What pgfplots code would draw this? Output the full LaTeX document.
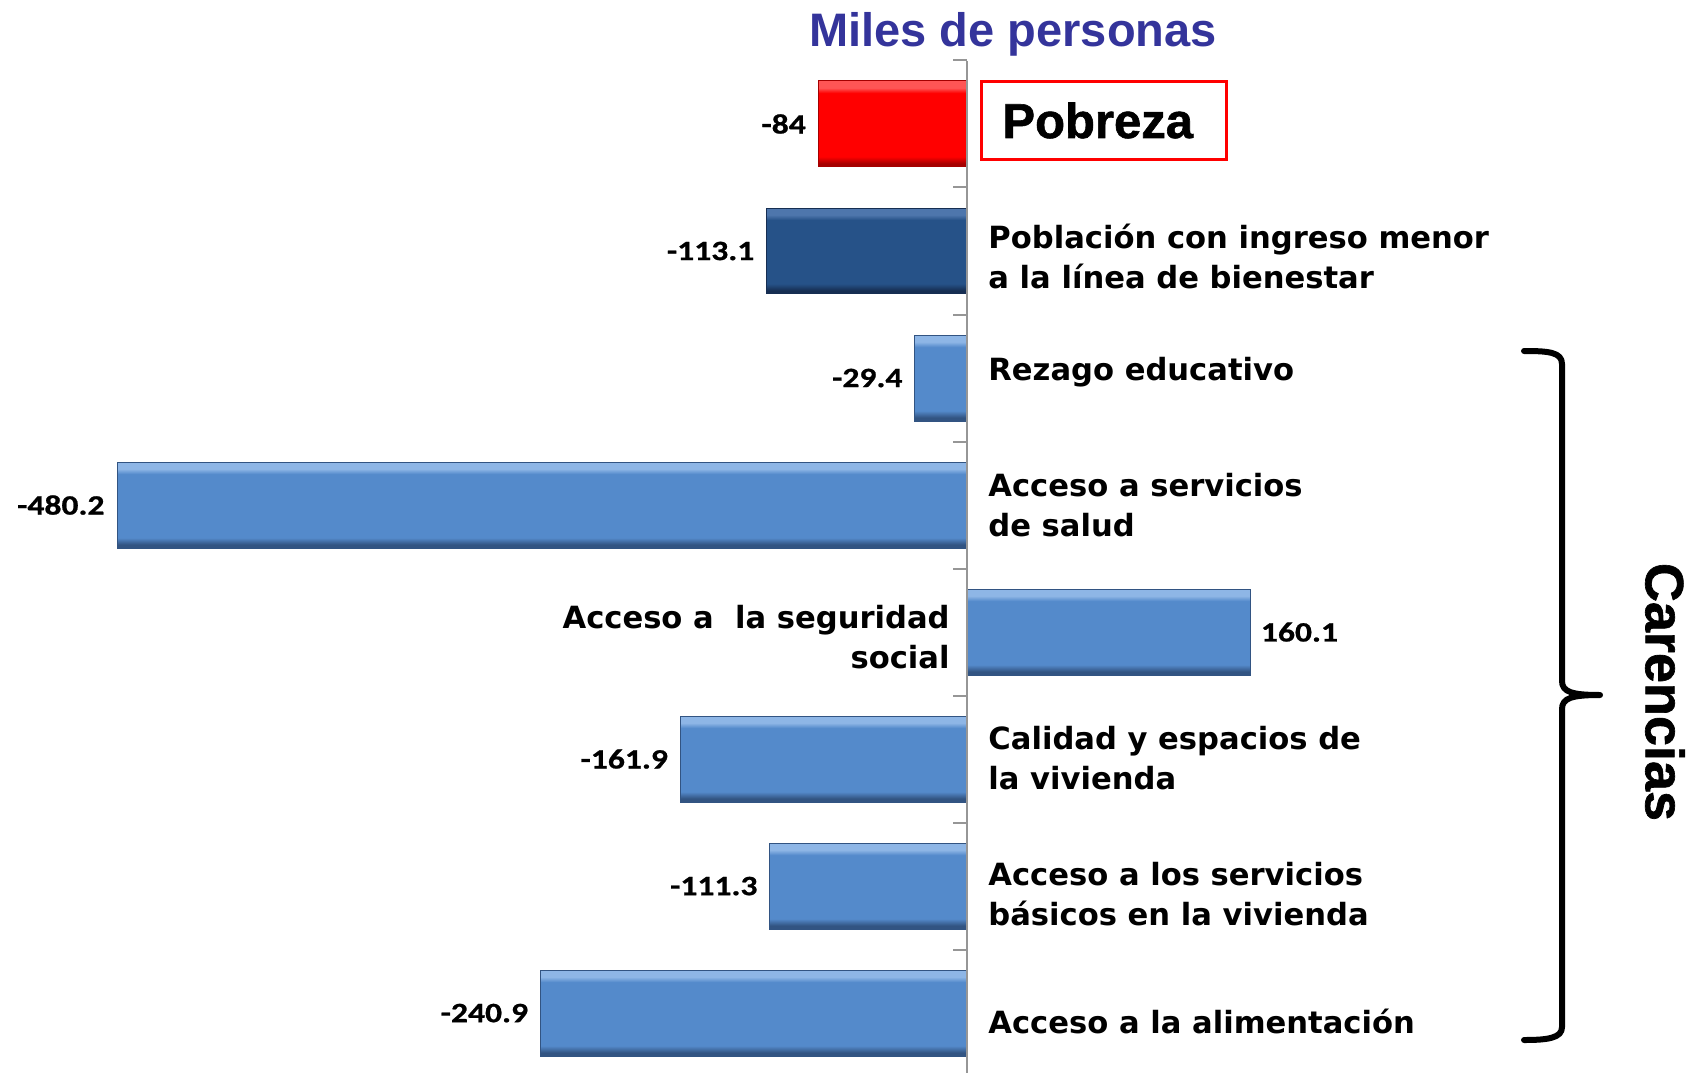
\documentclass[border=0pt]{standalone}
\usepackage{pgfplots}
\pgfplotsset{compat=1.18}
\usepackage{fontspec}
\setmainfont{DejaVu Sans}
\newfontfamily\numf{Carlito}[FakeStretch=1.2, FakeBold=0.8]
\newfontfamily\arf{Liberation Sans}
\newfontfamily\arfh{Liberation Sans}[FakeBold=1.2]

\definecolor{bmain}{RGB}{84,138,203}
\definecolor{btop}{RGB}{142,182,230}
\definecolor{bbot}{RGB}{50,84,130}
\definecolor{dbmain}{RGB}{38,82,136}
\definecolor{dbtop}{RGB}{78,118,172}
\definecolor{dbbot}{RGB}{22,46,82}
\definecolor{rmain}{RGB}{255,0,0}
\definecolor{rtop}{RGB}{255,85,85}
\definecolor{rbot}{RGB}{165,0,0}
\definecolor{titleblue}{RGB}{52,52,155}
\definecolor{axgray}{RGB}{150,150,150}

\pgfdeclareverticalshading{bluebar}{100bp}{color(0bp)=(bbot); color(25bp)=(bbot); color(27bp)=(bbot); color(31bp)=(bmain); color(68bp)=(bmain); color(71bp)=(btop); color(75bp)=(btop); color(100bp)=(btop)}
\pgfdeclareverticalshading{dbluebar}{100bp}{color(0bp)=(dbbot); color(25bp)=(dbbot); color(27bp)=(dbbot); color(31bp)=(dbmain); color(68bp)=(dbmain); color(71bp)=(dbtop); color(75bp)=(dbtop); color(100bp)=(dbtop)}
\pgfdeclareverticalshading{redbar}{100bp}{color(0bp)=(rbot); color(25bp)=(rbot); color(27bp)=(rbot); color(31bp)=(rmain); color(68bp)=(rmain); color(71bp)=(rtop); color(75bp)=(rtop); color(100bp)=(rtop)}

\pgfplotsset{
  negbar/.style={shade, line width=0.5pt,
    every node near coord/.append style={anchor=east, xshift=-6pt}},
  posbar/.style={shade, line width=0.5pt,
    every node near coord/.append style={anchor=west, xshift=5pt}},
}

\begin{document}
\begin{tikzpicture}
\begin{axis}[
  at={(0pt,0pt)}, anchor=south west,
  scale only axis, width=844.5pt, height=536.5pt,
  xmin=-546.3, xmax=407.9,
  ymin=-0.976, ymax=7.472, y dir=reverse,
  hide axis, clip=false,
  xbar, bar width=0.677, bar shift=0pt,
  nodes near coords, point meta=explicit symbolic,
  every node near coord/.append style={font=\numf\bfseries\fontsize{14}{14}\selectfont, inner sep=0pt, text=black},
]
\addplot[negbar, shading=redbar, draw=rbot] coordinates {(-84,0) [-84]};
\addplot[negbar, shading=dbluebar, draw=dbbot] coordinates {(-113.1,1) [-113.1]};
\addplot[negbar, shading=bluebar, draw=bbot] coordinates {(-29.4,2) [-29.4]};
\addplot[negbar, shading=bluebar, draw=bbot] coordinates {(-480.2,3) [-480.2]};
\addplot[posbar, shading=bluebar, draw=bbot] coordinates {(160.1,4) [160.1]};
\addplot[negbar, shading=bluebar, draw=bbot] coordinates {(-161.9,5) [-161.9]};
\addplot[negbar, shading=bluebar, draw=bbot] coordinates {(-111.3,6) [-111.3]};
\addplot[negbar, shading=bluebar, draw=bbot] coordinates {(-240.9,7) [-240.9]};
\end{axis}

\begin{scope}[shift={(0pt,536.5pt)}, x=0.5pt, y=-0.5pt]
  % zero line with ticks
  \draw[axgray, line width=1pt] (967,61) -- (967,1073);
  \foreach \t in {60.5,187.5,314.5,441.5,568.5,695.5,822.5,949.5}
    \draw[axgray, line width=1pt] (953,\t) -- (967,\t);
  % title
  \node[anchor=base, inner sep=0pt, text=titleblue, font=\arf\bfseries\fontsize{23.5}{24}\selectfont] at (1013,47) {Miles de personas};
  % Pobreza box
  \draw[red, line width=1.5pt] (981,82) rectangle (1226,160);
  \node[anchor=base west, inner sep=0pt, font=\arfh\bfseries\fontsize{24.5}{25}\selectfont] at (1002,138) {Pobreza};
  % category labels
  \tikzset{lab/.style={inner sep=0pt, font=\bfseries\fontsize{15.3}{20}\selectfont}}
  \node[lab, anchor=west, align=left] at (988,256) {Población con ingreso menor\\a la línea de bienestar};
  \node[lab, anchor=west, align=left] at (988,372) {Rezago educativo};
  \node[lab, anchor=west, align=left] at (988,505) {Acceso a servicios\\de salud};
  \node[lab, anchor=east, align=right] at (950,637) {Acceso a\ \ la seguridad\\social};
  \node[lab, anchor=west, align=left] at (988,758) {Calidad y espacios de\\la vivienda};
  \node[lab, anchor=west, align=left] at (988,894) {Acceso a los servicios\\básicos en la vivienda};
  \node[lab, anchor=west, align=left] at (988,1021) {Acceso a la alimentación};
  % brace
  \draw[black, line width=3pt, line cap=round, line join=round]
    (1524,351) .. controls (1548,351) and (1562,352) .. (1562,364)
    -- (1562,681) .. controls (1562,692) and (1572,695) .. (1600,695)
    .. controls (1572,695) and (1562,698) .. (1562,709)
    -- (1562,1027) .. controls (1562,1038) and (1548,1040) .. (1524,1040);
  \node[rotate=-90, inner sep=0pt, font=\arfh\bfseries\fontsize{27}{27}\selectfont] at (1665,692) {Carencias};
\end{scope}
\pgfresetboundingbox
\useasboundingbox (0,0) rectangle (844.5pt,536.5pt);
\end{tikzpicture}
\end{document}
